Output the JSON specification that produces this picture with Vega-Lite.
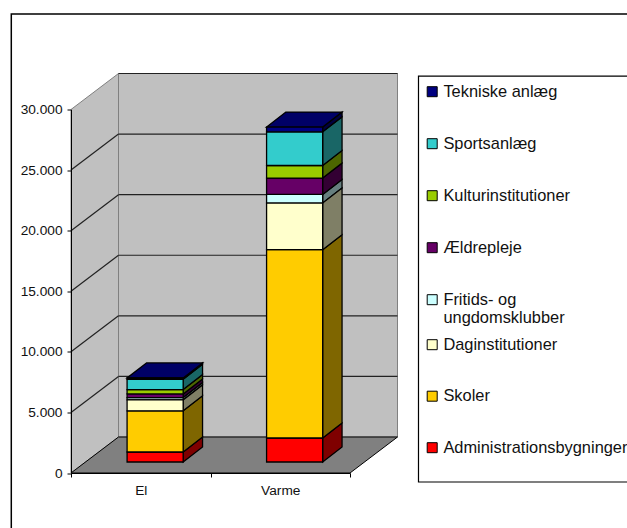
{"$schema":"https://vega.github.io/schema/vega-lite/v6.json","width":279,"height":363.5,"autosize":"none","padding":{"left":71,"top":109.5,"right":277,"bottom":55},"background":"white","config":{"view":{"stroke":null},"font":"Liberation Sans"},
"datasets":{"gridticks":[{"v":0},{"v":5000},{"v":10000},{"v":15000},{"v":20000},{"v":25000},{"v":30000}],"one":[{"a":1}]},
"data":{"values":[
{"cat":"El","series":"Administrationsbygninger","rank":1,"value":825},
{"cat":"El","series":"Skoler","rank":2,"value":3400},
{"cat":"El","series":"Daginstitutioner","rank":3,"value":900},
{"cat":"El","series":"Fritids- og ungdomsklubber","rank":4,"value":190},
{"cat":"El","series":"Ældrepleje","rank":5,"value":300},
{"cat":"El","series":"Kulturinstitutioner","rank":6,"value":360},
{"cat":"El","series":"Sportsanlæg","rank":7,"value":855},
{"cat":"El","series":"Tekniske anlæg","rank":8,"value":110},
{"cat":"Varme","series":"Administrationsbygninger","rank":1,"value":1980},
{"cat":"Varme","series":"Skoler","rank":2,"value":15540},
{"cat":"Varme","series":"Daginstitutioner","rank":3,"value":3850},
{"cat":"Varme","series":"Fritids- og ungdomsklubber","rank":4,"value":710},
{"cat":"Varme","series":"Ældrepleje","rank":5,"value":1350},
{"cat":"Varme","series":"Kulturinstitutioner","rank":6,"value":1040},
{"cat":"Varme","series":"Sportsanlæg","rank":7,"value":2780},
{"cat":"Varme","series":"Tekniske anlæg","rank":8,"value":390}
]},
"transform":[
{"stack":"value","groupby":["cat"],"sort":[{"field":"rank","order":"ascending"}],"as":["v0","v1"]},
{"calculate":"(datum.cat==='El'?0:1)+0.402","as":"xf"},
{"calculate":"datum.xf+0.402","as":"xr"},
{"calculate":"datum.v0+908","as":"y0"},
{"calculate":"datum.v1+908","as":"y1"},
{"calculate":"[0,1]","as":"d"},
{"flatten":["d"]},
{"calculate":"datum.xr+datum.d*0.139","as":"sx"},
{"calculate":"datum.xf+datum.d*0.139","as":"tx"},
{"calculate":"datum.y0+datum.d*1238","as":"sy0"},
{"calculate":"datum.y1+datum.d*1238","as":"sy1"}
],
"layer":[
{"data":{"name":"one"},"mark":{"type":"rect","fill":"transparent","stroke":"black","strokeWidth":1.5},"encoding":{"x":{"datum":-0.428,"type":"quantitative","scale":{"domain":[0,2]},"axis":{"title":null,"zindex":1,"values":[0,0.5,1,1.5,2],"labelExpr":"datum.value==0.5?'El':(datum.value==1.5?'Varme':'')","tickOpacity":{"condition":{"test":"datum.value==0.5||datum.value==1.5","value":0},"value":1},"grid":false,"domainColor":"#000","tickColor":"#000","tickSize":4,"labelFontSize":13.7,"labelColor":"#111","labelPadding":6,"labelAngle":0,"labelFlush":false,"labelOverlap":false}},"x2":{"datum":4.1},"y":{"datum":37880,"type":"quantitative","scale":{"domain":[0,30000],"nice":false},"axis":{"title":null,"zindex":1,"values":[0,5000,10000,15000,20000,25000,30000],"labelExpr":"replace(format(datum.value,','),',','.')","grid":false,"domainColor":"#000","tickColor":"#000","tickSize":4,"labelFontSize":13.7,"labelColor":"#111","labelPadding":5}},"y2":{"datum":-5600}}},
{"data":{"name":"one"},"mark":{"type":"rect","fill":"transparent","stroke":"black","strokeWidth":1.2},"encoding":{"x":{"datum":2.491,"type":"quantitative"},"x2":{"datum":4.1},"y":{"datum":32760,"type":"quantitative"},"y2":{"datum":-743}}},
{"data":{"name":"one"},"mark":{"type":"rect","fill":"#c0c0c0","stroke":"#808080","strokeWidth":1},"encoding":{"x":{"datum":0.3405,"type":"quantitative"},"x2":{"datum":2.3405},"y":{"datum":2971,"type":"quantitative"},"y2":{"datum":32971}}},
{"data":{"name":"one"},"transform":[{"calculate":"[0,1]","as":"d"},{"flatten":["d"]},{"calculate":"datum.d*0.3405","as":"x"},{"calculate":"datum.d*2971","as":"yb"},{"calculate":"30000+datum.d*2971","as":"yt"}],"mark":{"type":"area","fill":"#c0c0c0","stroke":"#808080","strokeWidth":1},"encoding":{"x":{"field":"x","type":"quantitative"},"y":{"field":"yb","type":"quantitative","stack":null},"y2":{"field":"yt"}}},
{"data":{"name":"one"},"transform":[{"calculate":"[0,1]","as":"d"},{"flatten":["d"]},{"calculate":"datum.d*0.3405","as":"x"},{"calculate":"datum.d*2971","as":"yb"},{"calculate":"2+datum.d*0.3405","as":"xe"}],"mark":{"type":"area","orient":"horizontal","fill":"#808080","stroke":"#000","strokeWidth":1},"encoding":{"y":{"field":"yb","type":"quantitative"},"x":{"field":"x","type":"quantitative","stack":null},"x2":{"field":"xe"}}},
{"data":{"name":"gridticks"},"transform":[{"filter":"datum.v>0"},{"calculate":"datum.v+2971","as":"yb"}],"mark":{"type":"rule","stroke":"#222","strokeWidth":1.2},"encoding":{"x":{"datum":0.3405,"type":"quantitative"},"x2":{"datum":2.3405},"y":{"field":"yb","type":"quantitative"}}},
{"data":{"name":"gridticks"},"transform":[{"filter":"datum.v>0 && datum.v<30000"},{"calculate":"[0,1]","as":"d"},{"flatten":["d"]},{"calculate":"datum.d*0.3405","as":"x"},{"calculate":"datum.v+datum.d*2971","as":"yb"}],"mark":{"type":"line","stroke":"#222","strokeWidth":1.2},"encoding":{"x":{"field":"x","type":"quantitative"},"y":{"field":"yb","type":"quantitative"},"detail":{"field":"v"}}},
{"transform":[{"filter":"datum.rank>=4"}],"mark":{"type":"area","stroke":"#000","strokeWidth":1.3},"encoding":{"x":{"field":"sx","type":"quantitative"},"y":{"field":"sy0","type":"quantitative","stack":null},"y2":{"field":"sy1"},"detail":[{"field":"cat"}],"color":{"field":"series","type":"nominal","scale":{"domain":["Tekniske anlæg","Sportsanlæg","Kulturinstitutioner","Ældrepleje","Fritids- og ungdomsklubber"],"range":["#000080","#33cccc","#99cc00","#660066","#ccffff"]},"legend":{"title":null,"orient":"none","legendX":353,"legendY":-26,"padding":0,"zindex":1,"symbolType":"square","symbolSize":100,"symbolStrokeColor":"#000","symbolStrokeWidth":1,"symbolOpacity":1,"labelFontSize":16.4,"labelColor":"#111","labelOffset":3,"labelLimit":300,"rowPadding":35,"labelExpr":"datum.label==='Fritids- og ungdomsklubber'?['Fritids- og','ungdomsklubber']:datum.label"}}}},
{"transform":[{"filter":"datum.rank<=3"}],"mark":{"type":"area","stroke":"#000","strokeWidth":1.3},"encoding":{"x":{"field":"sx","type":"quantitative"},"y":{"field":"sy0","type":"quantitative","stack":null},"y2":{"field":"sy1"},"detail":[{"field":"cat"}],"fill":{"field":"series","type":"nominal","scale":{"domain":["Daginstitutioner","Skoler","Administrationsbygninger"],"range":["#ffffcc","#ffcc00","#ff0000"]},"legend":{"title":null,"orient":"none","legendX":353,"legendY":227,"padding":0,"zindex":1,"symbolType":"square","symbolSize":100,"symbolStrokeColor":"#000","symbolStrokeWidth":1,"symbolOpacity":1,"labelFontSize":16.4,"labelColor":"#111","labelOffset":3,"labelLimit":300,"rowPadding":34.5}}}},
{"mark":{"type":"area","fill":"#000","fillOpacity":0.5},"encoding":{"x":{"field":"sx","type":"quantitative"},"y":{"field":"sy0","type":"quantitative","stack":null},"y2":{"field":"sy1"},"detail":[{"field":"cat"},{"field":"series"}]}},
{"transform":[{"filter":"datum.rank===8"}],"mark":{"type":"area","orient":"horizontal","fill":"#000066","stroke":"#000","strokeWidth":1.3},"encoding":{"y":{"field":"sy1","type":"quantitative"},"x":{"field":"tx","type":"quantitative","stack":null},"x2":{"field":"sx"},"detail":{"field":"cat"}}},
{"transform":[{"filter":"datum.d===0 && datum.rank>=4"}],"mark":{"type":"rect","stroke":"#000","strokeWidth":1.3},"encoding":{"x":{"field":"xf","type":"quantitative"},"x2":{"field":"xr"},"y":{"field":"y0","type":"quantitative"},"y2":{"field":"y1"},"color":{"field":"series","type":"nominal","legend":null}}},
{"transform":[{"filter":"datum.d===0 && datum.rank<=3"}],"mark":{"type":"rect","stroke":"#000","strokeWidth":1.3},"encoding":{"x":{"field":"xf","type":"quantitative"},"x2":{"field":"xr"},"y":{"field":"y0","type":"quantitative"},"y2":{"field":"y1"},"fill":{"field":"series","type":"nominal","legend":null}}}
]}
